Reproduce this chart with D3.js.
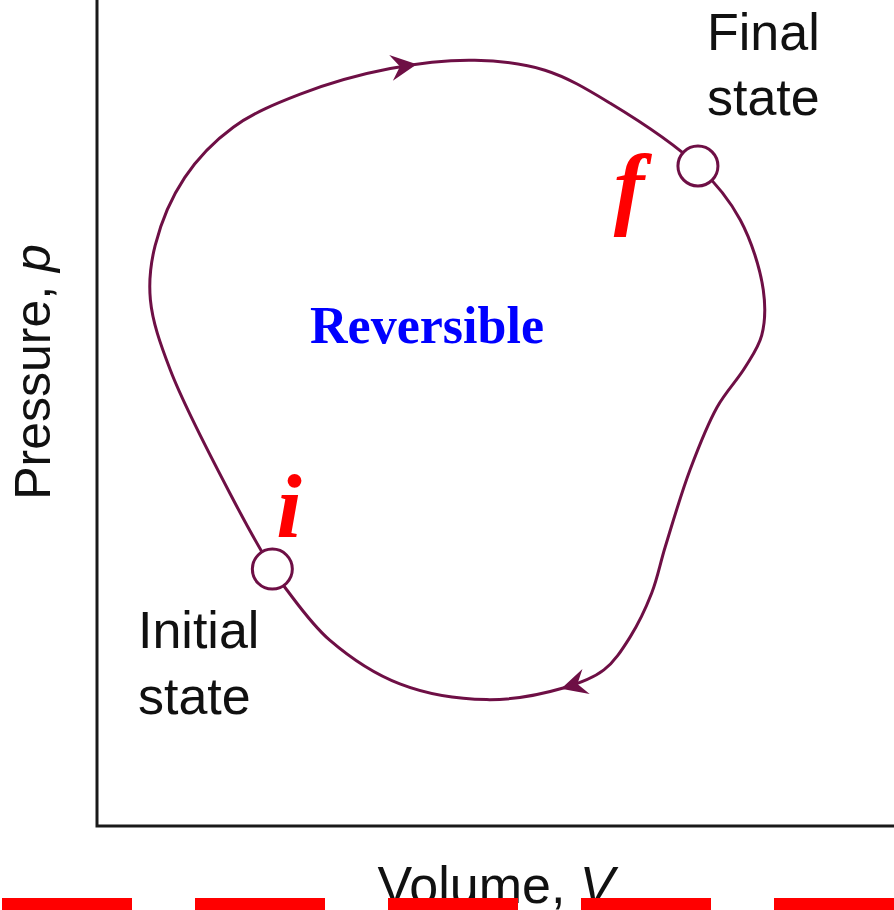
<!DOCTYPE html>
<html>
<head>
<meta charset="utf-8">
<script src="https://cdn.jsdelivr.net/npm/d3@7"></script>
<style>
  body { margin: 0; background: #fff; }
  svg { display: block; }
</style>
</head>
<body>
<div id="chart"></div>
<script>
// ======= data =======
// closed reversible cycle in the p-V plane (arbitrary units, clockwise from the initial state)
var cycleV = [22.0, 17.1, 9.2, 6.7, 7.3, 11.0, 17.1, 25.5, 36.8, 47.4, 56.2, 64.4, 75.4, 80.7,
              83.6, 83.4, 81.3, 77.8, 74.4, 71.3, 69.6, 66.9, 63.6, 58.5, 48.9, 38.0, 29.2, 23.8];
var cycleP = [31.1, 39.5, 55.2, 63.7, 70.3, 78.5, 84.6, 88.6, 91.7, 92.7, 91.5, 87.5, 79.9, 73.4,
              64.9, 59.4, 55.5, 50.7, 43.1, 33.8, 28.2, 22.9, 18.9, 16.7, 15.3, 17.2, 22.5, 28.6];

var stateNames = ["i", "f"];
var stateV = [22.0, 75.4];
var stateP = [31.1, 79.9];

// arrow tips on the path
var arrowV = [39.9, 58.5];
var arrowP = [92.0, 16.7];

var width = 894;
var height = 910;
var purple = "#6e0f45";

var svg = d3.select("#chart")
  .append("svg")
    .attr("width", width)
    .attr("height", height);

var x = d3.scaleLinear().domain([0, 100]).range([97, 894]);
var y = d3.scaleLinear().domain([0, 100]).range([826, 0]);

// ======= axes =======
svg.append("path")
    .attr("d", "M" + x(0) + "," + y(100) + "V" + y(0) + "H" + x(100))
    .style("fill", "none")
    .style("stroke", "#1a1a1a")
    .style("stroke-width", 3);

// ======= cycle =======
var pts = cycleV.map(function(v, i) { return [x(v), y(cycleP[i])]; });

var line = d3.line().curve(d3.curveCatmullRomClosed.alpha(0.5));

var cycle = svg.append("path")
    .attr("d", line(pts))
    .style("fill", "none")
    .style("stroke", purple)
    .style("stroke-width", 3);

// arrowheads: nearest point on the path, turned along its tangent
var node = cycle.node();
var total = node.getTotalLength();

arrowV.forEach(function(v, i) {
    var tx = x(v), ty = y(arrowP[i]);
    var best = 0, bestD = Infinity;
    for (var s = 0; s <= total; s += 0.5) {
        var pt = node.getPointAtLength(s);
        var dd = (pt.x - tx) * (pt.x - tx) + (pt.y - ty) * (pt.y - ty);
        if (dd < bestD) { bestD = dd; best = s; }
    }
    var p0 = node.getPointAtLength(Math.max(best - 3, 0));
    var p1 = node.getPointAtLength(Math.min(best + 3, total));
    var ang = Math.atan2(p1.y - p0.y, p1.x - p0.x) * 180 / Math.PI;
    var tip = node.getPointAtLength(best);
    svg.append("path")
        .attr("d", "M2,0L-24,-13L-15,0L-24,13Z")
        .attr("transform", "translate(" + tip.x + "," + tip.y + ") rotate(" + ang + ")")
        .style("fill", purple);
});

// ======= states =======
svg.selectAll(".state")
    .data(stateNames)
  .enter().append("circle")
    .attr("class", "state")
    .attr("cx", function(d, i) { return x(stateV[i]); })
    .attr("cy", function(d, i) { return y(stateP[i]); })
    .attr("r", 20)
    .style("fill", "#fff")
    .style("stroke", purple)
    .style("stroke-width", 3);

// ======= labels =======
var sans = "'Liberation Sans', Arial, sans-serif";
var serif = "'Liberation Serif', 'Times New Roman', serif";

function label(txt, px, py, size) {
    return svg.append("text")
        .attr("x", px)
        .attr("y", py)
        .style("font-family", sans)
        .style("font-size", size + "px")
        .style("fill", "#111")
        .text(txt);
}

label("Final", 707, 50, 52);
label("state", 707, 115, 52);
label("Initial", 138, 648, 52);
label("state", 138, 714, 52);

svg.append("text")
    .attr("transform", "translate(50,372) rotate(-90)")
    .attr("text-anchor", "middle")
    .style("font-family", sans)
    .style("font-size", "50px")
    .style("fill", "#111")
    .html("Pressure, <tspan font-style='italic'>p</tspan>");

svg.append("text")
    .attr("x", 496)
    .attr("y", 903)
    .attr("text-anchor", "middle")
    .style("font-family", sans)
    .style("font-size", "52px")
    .style("fill", "#111")
    .html("Volume, <tspan font-style='italic'>V</tspan>");

svg.append("text")
    .attr("x", 427)
    .attr("y", 343)
    .attr("text-anchor", "middle")
    .style("font-family", serif)
    .style("font-weight", "bold")
    .style("font-size", "52px")
    .style("fill", "#0000ff")
    .text("Reversible");

var stateLabelX = [289, 629];
var stateLabelY = [537, 218];
svg.selectAll(".stateLabel")
    .data(stateNames)
  .enter().append("text")
    .attr("class", "stateLabel")
    .attr("x", function(d, i) { return stateLabelX[i]; })
    .attr("y", function(d, i) { return stateLabelY[i]; })
    .attr("text-anchor", "middle")
    .style("font-family", serif)
    .style("font-weight", "bold")
    .style("font-style", "italic")
    .style("font-size", "92px")
    .style("fill", "#ff0000")
    .text(function(d) { return d; });

// ======= red dashes along the bottom =======
svg.append("line")
    .attr("x1", 2).attr("x2", width)
    .attr("y1", 904).attr("y2", 904)
    .style("stroke", "#ff0000")
    .style("stroke-width", 12)
    .style("stroke-dasharray", "130,63");
</script>
</body>
</html>
